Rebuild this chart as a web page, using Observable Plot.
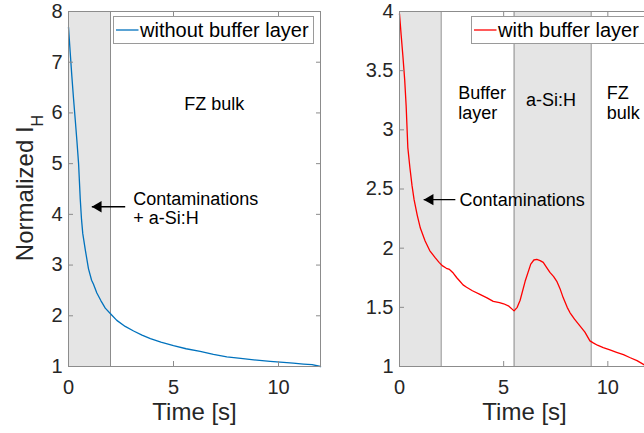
<!DOCTYPE html>
<html><head><meta charset="utf-8">
<script src="https://cdn.jsdelivr.net/npm/d3@7"></script>
<script src="https://cdn.jsdelivr.net/npm/@observablehq/plot@0.6"></script>
<style>
html,body{margin:0;padding:0;background:#fff;overflow:hidden;}
#wrap{position:relative;width:644px;height:433px;overflow:hidden;font-family:"Liberation Sans",Arial,Helvetica,sans-serif;}
#left{position:absolute;left:0;top:0;width:330px;}
#right{position:absolute;left:330px;top:0;width:330px;}
svg{display:block;max-width:none !important;}
</style></head><body><div id="wrap"><div id="left"></div><div id="right"></div></div>
<script>
// ---- data: without buffer layer ----
const timeWithout = [0,0.08,0.16,0.24,0.32,0.4,0.48,0.56,0.62,0.68,0.8,0.95,1.1,1.19,1.35,1.54,1.75,2.0,2.3,2.7,3.1,3.5,3.9,4.4,5.0,5.6,6.27,6.9,7.54,8.2,8.97,9.6,10.24,10.7,11.19,11.6,12];
const valueWithout = [7.69,7.2,6.72,6.28,5.87,5.45,5.0,4.3,3.9,3.62,3.3,2.93,2.7,2.62,2.45,2.3,2.15,2.04,1.91,1.79,1.70,1.62,1.55,1.48,1.41,1.35,1.30,1.24,1.19,1.16,1.125,1.1,1.08,1.065,1.047,1.035,1.0];
// ---- data: with buffer layer ----
const timeWith = [0,0.08,0.16,0.25,0.32,0.4,0.5,0.6,0.7,0.85,1.0,1.23,1.45,1.71,1.9,2.07,2.25,2.4,2.58,2.75,2.9,3.05,3.22,3.5,3.86,4.2,4.5,4.8,5.0,5.25,5.5,5.65,5.79,6.03,6.3,6.45,6.59,6.75,6.9,7.05,7.22,7.4,7.55,7.7,7.86,8.05,8.18,8.4,8.66,8.9,9.14,9.3,9.5,9.78,10.1,10.42,10.75,11.05,11.4,11.69,11.85];
const valueWith = [3.98,3.8,3.63,3.42,3.2,2.85,2.68,2.53,2.41,2.28,2.17,2.06,1.98,1.92,1.88,1.85,1.83,1.82,1.79,1.75,1.72,1.69,1.67,1.64,1.61,1.58,1.55,1.54,1.53,1.51,1.47,1.50,1.56,1.72,1.865,1.9,1.905,1.895,1.88,1.84,1.795,1.76,1.72,1.66,1.58,1.50,1.456,1.40,1.344,1.29,1.217,1.2,1.18,1.16,1.14,1.12,1.1,1.076,1.05,1.02,1.0];

const xTicks = [0,5,10];
const yTicksWithout = [1,2,3,4,5,6,7,8];
const yTicksWith = [1,1.5,2,2.5,3,3.5,4];
const xLabel = ["Time [s]"];
const yLabelMain = "Normalized I";
const yLabelSub = "H";
const legendWithout = "without buffer layer";
const legendWith = "with buffer layer";

const bandsWithout = [{x1:0,x2:2}];
const bandsWith = [{x1:0,x2:2},{x1:5.5,x2:9.2}];
const boundariesWithout = [2];
const boundariesWith = [2,5.5,9.2];

const labelsWithoutMid = [{x:6.94,y:6.17,text:"FZ bulk"}];
const labelsWithoutStart = [{x:3.08,y:4.12,text:"Contaminations\n+ a-Si:H"}];
const labelsWithMid = [{x:7.27,y:3.246,text:"a-Si:H"}];
const labelsWithStart = [{x:2.82,y:3.233,text:"Buffer\nlayer"},{x:9.95,y:3.233,text:"FZ\nbulk"},{x:2.885,y:2.41,text:"Contaminations"}];
const arrowsWithout = [{x1:2.7,x2:1.11,y:4.15}];
const arrowsWith = [{x1:2.68,x2:1.16,y:2.41}];

const gray = "#8c8c8c";
const ink = "#262626";
const font = '"Liberation Sans", Arial, Helvetica, sans-serif';

function panel({time, value, color, yDomain, yTicks, bands, boundaries, labelsMid, labelsStart, lineHeight, arrows, marginLeft, marginRight, width}) {
  const data = time.map((t, i) => ({t, v: value[i]}));
  return Plot.plot({
    width, height: 433, marginLeft, marginRight, marginTop: 11, marginBottom: 67,
    style: {fontFamily: font, fontSize: "20px", background: "transparent", color: ink, maxWidth: "none", overflow: "visible"},
    x: {domain: [0, 12]},
    y: {domain: yDomain},
    marks: [
      Plot.rect(bands, {x1: "x1", x2: "x2", y1: yDomain[0], y2: yDomain[1], fill: "#e5e5e5"}),
      Plot.ruleX(boundaries, {stroke: gray, strokeWidth: 1}),
      Plot.line(data, {x: "t", y: "v", stroke: color, strokeWidth: 1.3}),
      Plot.link(arrows, {x1: "x1", x2: "x2", y1: "y", y2: "y", stroke: "black", strokeWidth: 1.3}),
      Plot.dot(arrows, {x: "x2", y: "y", symbol: "triangle", rotate: -90, fill: "black", stroke: "none", r: 4.2, dx: 6.5}),
      Plot.text(labelsMid, {x: "x", y: "y", text: "text", textAnchor: "middle", lineAnchor: "middle", fontSize: 18, fill: "black"}),
      Plot.text(labelsStart, {x: "x", y: "y", text: "text", textAnchor: "start", lineAnchor: "middle", lineHeight, fontSize: 18, fill: "black"}),
      Plot.text(xLabel, {text: d => d, frameAnchor: "bottom", dy: 46, lineAnchor: "middle", fontSize: 24, fill: ink}),
      Plot.axisX({ticks: xTicks, tickSize: 0, tickPadding: 13, fontSize: 20, fill: ink, label: null}),
      Plot.axisX({ticks: xTicks, anchor: "bottom", tickSize: -5, fill: "none", stroke: gray, label: null}),
      Plot.axisX({ticks: xTicks, anchor: "top", tickSize: -5, fill: "none", stroke: gray, label: null}),
      Plot.axisY({ticks: yTicks, tickSize: 0, tickPadding: 6, fontSize: 20, fill: ink, label: null, tickFormat: d => String(d)}),
      Plot.axisY({ticks: yTicks, anchor: "left", tickSize: -5, fill: "none", stroke: gray, label: null}),
      Plot.axisY({ticks: yTicks, anchor: "right", tickSize: -5, fill: "none", stroke: gray, label: null}),
      Plot.frame({stroke: gray})
    ]
  });
}

function addLegend(svg, {x, y, w, h, color, label}) {
  const g = d3.select(svg).append("g");
  g.append("rect").attr("x", x).attr("y", y).attr("width", w).attr("height", h)
    .attr("fill", "white").attr("stroke", "#9a9a9a");
  g.append("line").attr("x1", x + 2.5).attr("x2", x + 25).attr("y1", y + h / 2).attr("y2", y + h / 2)
    .attr("stroke", color).attr("stroke-width", 1.3);
  g.append("text").attr("x", x + 26.5).attr("y", y + h / 2).attr("dy", "0.35em")
    .attr("text-anchor", "start")
    .attr("font-size", 20).attr("font-family", font).attr("fill", "black").text(label);
}

const left = panel({
  time: timeWithout, value: valueWithout, color: "#0072BD", yDomain: [1, 8], yTicks: yTicksWithout,
  bands: bandsWithout, boundaries: boundariesWithout, labelsMid: labelsWithoutMid, labelsStart: labelsWithoutStart,
  lineHeight: 1.06, arrows: arrowsWithout, marginLeft: 68, marginRight: 10, width: 330
});
const right = panel({
  time: timeWith, value: valueWith, color: "#FF0000", yDomain: [1, 4], yTicks: yTicksWith,
  bands: bandsWith, boundaries: boundariesWith, labelsMid: labelsWithMid, labelsStart: labelsWithStart,
  lineHeight: 1.11, arrows: arrowsWith, marginLeft: 69, marginRight: 11, width: 330
});

addLegend(left, {x: 113.5, y: 16.5, w: 200, h: 27, color: "#0072BD", label: legendWithout});
addLegend(right, {x: 141.5, y: 16.5, w: 180, h: 27, color: "#FF0000", label: legendWith});

// y-axis title with subscript
const yt = d3.select(left).append("text")
  .attr("transform", "translate(33,188) rotate(-90)")
  .attr("text-anchor", "middle").attr("font-size", 24).attr("font-family", font).attr("fill", ink);
yt.append("tspan").text(yLabelMain);
yt.append("tspan").attr("font-size", 16).attr("dy", 10).text(yLabelSub);

document.getElementById("left").appendChild(left);
document.getElementById("right").appendChild(right);
</script>
</body></html>
